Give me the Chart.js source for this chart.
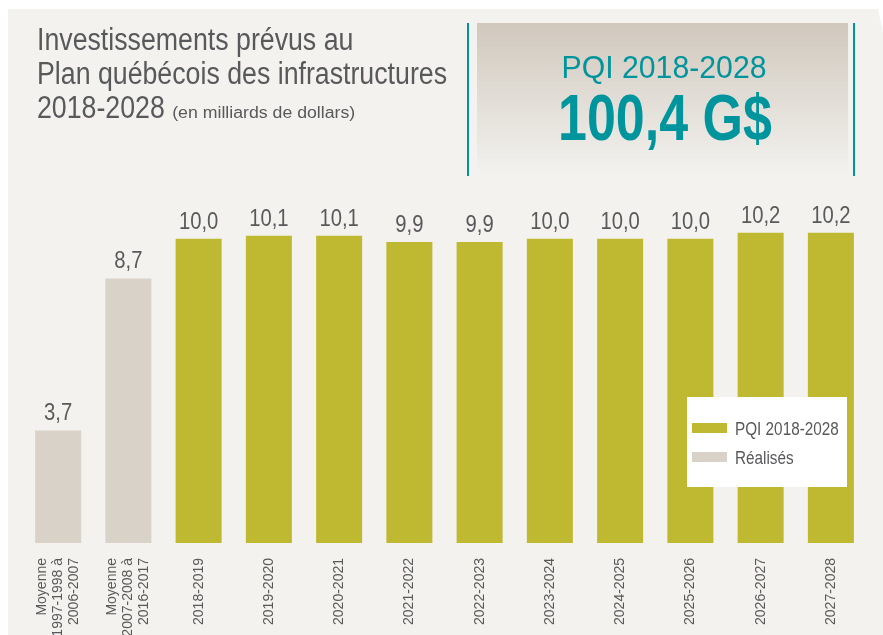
<!DOCTYPE html>
<html lang="fr">
<head>
<meta charset="utf-8">
<script src="https://cdn.jsdelivr.net/npm/chart.js@4.4.1/dist/chart.umd.min.js"></script>
<style>
  html, body { margin: 0; padding: 0; background: #fff; }
</style>
</head>
<body>
<canvas id="pqi" width="883" height="635"></canvas>
<script>
// catégories (axe des x) - la ligne vide sert à centrer les étiquettes sur 3 lignes
const categories = [
  ["Moyenne", "1997-1998 à", "2006-2007"],
  ["Moyenne", "2007-2008 à", "2016-2017"],
  ["", "2018-2019"], ["", "2019-2020"], ["", "2020-2021"], ["", "2021-2022"],
  ["", "2022-2023"], ["", "2023-2024"], ["", "2024-2025"], ["", "2025-2026"],
  ["", "2026-2027"], ["", "2027-2028"]
];

// en milliards de dollars
const prevus   = [null, null, 10.0, 10.1, 10.1, 9.9, 9.9, 10.0, 10.0, 10.0, 10.2, 10.2];
const realises = [3.7, 8.7, null, null, null, null, null, null, null, null, null, null];

const titre = ["Investissements prévus au", "Plan québécois des infrastructures", "2018-2028"];
const sousTitre = "(en milliards de dollars)";
const encadreTitre = "PQI 2018-2028";
const encadreTotal = "100,4 G$";

const FONT = "'Liberation Sans', Arial, sans-serif";
const gris = "#58595b";
const olive = "#bfb831";
const beige = "#d9d2c9";
const sarcelle = "#00959d";

// virgule décimale
const fmt = v => v.toFixed(1).replace(".", ",");

// texte « condensé » : on écrase horizontalement
function texteEtroit(ctx, txt, x, y, sx) {
  ctx.save();
  ctx.translate(x, y);
  ctx.scale(sx, 1);
  ctx.fillText(txt, 0, 0);
  ctx.restore();
}

const decor = {
  id: "decor",
  beforeDraw(chart) {
    const ctx = chart.ctx;
    ctx.save();
    ctx.fillStyle = "#fff";
    ctx.fillRect(0, 0, chart.width, chart.height);
    ctx.fillStyle = "#f3f2ef";
    ctx.beginPath();
    ctx.moveTo(8, 9);
    ctx.lineTo(878, 9);
    ctx.lineTo(883, 33);
    ctx.lineTo(883, 635);
    ctx.lineTo(8, 635);
    ctx.closePath();
    ctx.fill();

    // encadré
    const g = ctx.createLinearGradient(0, 23, 0, 175);
    g.addColorStop(0, "#d0c8bd");
    g.addColorStop(1, "#f3f2ef");
    ctx.fillStyle = g;
    ctx.fillRect(477, 23, 371, 152);
    ctx.fillStyle = sarcelle;
    ctx.fillRect(467, 23, 2, 153);
    ctx.fillRect(853, 23, 2, 153);

    ctx.textAlign = "center";
    ctx.textBaseline = "alphabetic";
    ctx.font = "32px " + FONT;
    texteEtroit(ctx, encadreTitre, 664, 78, 205 / ctx.measureText(encadreTitre).width);
    ctx.font = "bold 65px " + FONT;
    texteEtroit(ctx, encadreTotal, 665, 140, 214 / ctx.measureText(encadreTotal).width);

    // titre
    ctx.textAlign = "left";
    ctx.fillStyle = gris;
    ctx.font = "31px " + FONT;
    const sx = 410 / ctx.measureText(titre[1]).width;
    texteEtroit(ctx, titre[0], 37, 50, sx);
    texteEtroit(ctx, titre[1], 37, 84, sx);
    texteEtroit(ctx, titre[2], 37, 118, sx);
    const w = ctx.measureText(titre[2] + " ").width * sx;
    ctx.font = "16px " + FONT;
    texteEtroit(ctx, sousTitre, 37 + w, 118, 183 / ctx.measureText(sousTitre).width);
    ctx.restore();
  },
  afterDatasetsDraw(chart) {
    const ctx = chart.ctx;
    ctx.save();
    // valeurs au-dessus des barres
    ctx.fillStyle = gris;
    ctx.font = "23px " + FONT;
    ctx.textAlign = "center";
    ctx.textBaseline = "alphabetic";
    chart.data.datasets.forEach((ds, k) => {
      chart.getDatasetMeta(k).data.forEach((bar, i) => {
        if (ds.data[i] == null) return;
        texteEtroit(ctx, fmt(ds.data[i]), bar.x, bar.y - 10, 0.88);
      });
    });

    // légende
    ctx.fillStyle = "#fff";
    ctx.fillRect(687, 397, 160, 90);
    ctx.font = "18px " + FONT;
    ctx.textAlign = "left";
    chart.data.datasets.forEach((ds, k) => {
      const y = 423 + k * 29;
      ctx.fillStyle = ds.backgroundColor;
      ctx.fillRect(692, y, 35, 10);
      ctx.fillStyle = gris;
      texteEtroit(ctx, ds.label, 735, y + 12, 0.85);
    });
    ctx.restore();
  }
};

new Chart(document.getElementById("pqi"), {
  type: "bar",
  data: {
    labels: categories,
    datasets: [
      { label: "PQI 2018-2028", data: prevus, backgroundColor: olive },
      { label: "Réalisés", data: realises, backgroundColor: beige }
    ]
  },
  options: {
    responsive: false,
    animation: false,
    layout: { padding: { top: 178, left: 23, right: 17, bottom: 0 } },
    datasets: {
      bar: { grouped: false, barPercentage: 0.655, categoryPercentage: 1 }
    },
    scales: {
      x: {
        grid: { display: false, drawTicks: false },
        border: { display: false },
        ticks: {
          color: gris,
          font: { family: FONT, size: 14, lineHeight: 1.15 },
          minRotation: 90,
          maxRotation: 90,
          padding: 15,
          labelOffset: -16,
          autoSkip: false
        },
        afterFit: s => { s.height = 92; }
      },
      y: { display: false, min: 0, max: 12 }
    },
    plugins: {
      legend: { display: false },
      tooltip: { enabled: false }
    }
  },
  plugins: [decor]
});
</script>
</body>
</html>
